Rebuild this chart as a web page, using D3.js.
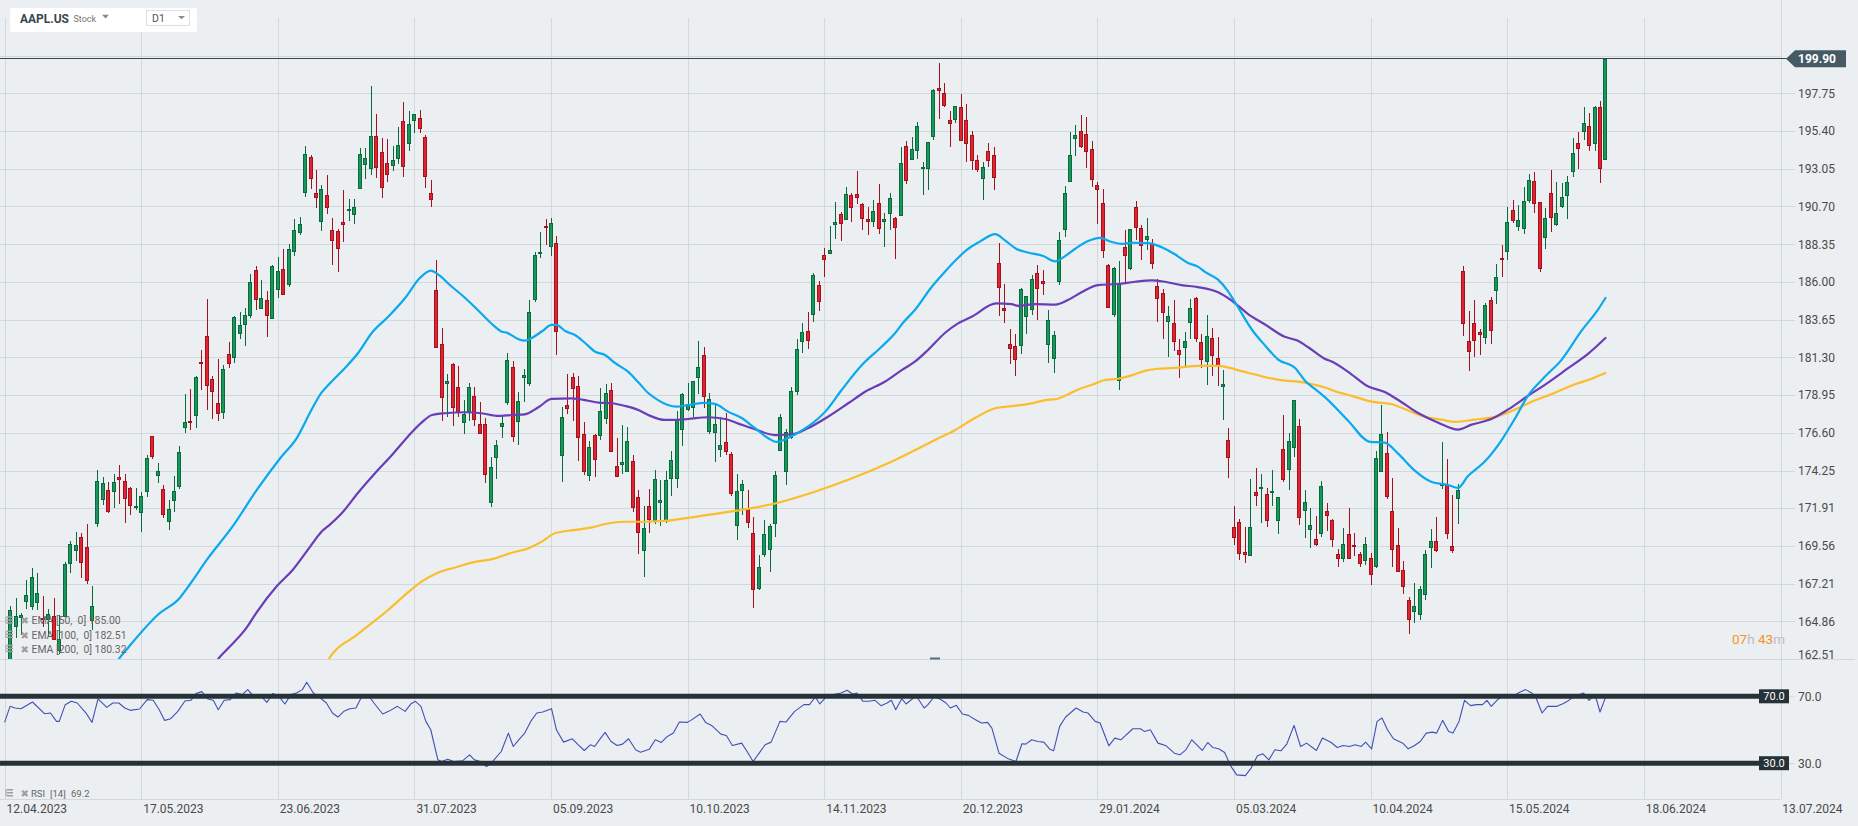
<!DOCTYPE html>
<html>
<head>
<meta charset="utf-8">
<script src="https://cdn.jsdelivr.net/npm/d3@7"></script>
<style>
  html, body { margin:0; padding:0; background:#eceff1; overflow:hidden; }
  svg { display:block; font-family: Roboto, "Noto Sans", "DejaVu Sans", sans-serif; }
</style>
</head>
<body>
<svg id="chart" width="1858" height="826"></svg>
<script>
// ---------------- DATA ----------------
const symbol = "AAPL.US";
const lastPrice = 199.90;
const xTickIdx = [0,25,50,75,100,125,150,175,200,225,250,275,300,325];
const xTickLabels = ["12.04.2023","17.05.2023","23.06.2023","31.07.2023","05.09.2023","10.10.2023","14.11.2023","20.12.2023","29.01.2024","05.03.2024","10.04.2024","15.05.2024","18.06.2024","13.07.2024"];
const priceTicks = [162.51,164.86,167.21,169.56,171.91,174.25,176.60,178.95,181.30,183.65,186.00,188.35,190.70,193.05,195.40,197.75];
const gridExtra = [200.10];
const rsiLevels = [70,30];

const open = [
161.22,161.63,164.59,165.09,166.10,165.80,166.09,165.05,165.00,165.19,
163.06,165.19,168.49,169.28,170.09,169.50,164.89,170.98,172.48,173.05,
173.02,173.85,173.62,173.16,171.99,171.71,173.00,176.39,173.98,173.13,
171.09,172.41,173.32,176.96,177.33,177.70,181.03,182.63,179.97,178.44,
177.90,181.50,181.27,182.80,183.37,183.96,186.73,184.41,184.90,183.74,
185.55,186.83,185.89,187.93,189.08,191.63,193.78,191.57,189.84,191.41,
189.26,189.16,189.75,190.50,190.23,191.90,193.35,193.10,195.09,194.10,
193.41,193.33,193.67,196.02,194.67,196.06,196.24,195.04,191.57,185.52,
182.13,179.69,180.87,179.48,177.32,177.97,178.88,177.13,177.14,172.30,
175.07,177.06,178.52,180.67,177.38,180.09,179.70,184.94,187.84,189.49,
188.28,188.40,175.18,178.35,180.07,179.49,176.51,174.00,176.48,176.48,
177.52,179.26,174.55,174.67,174.20,174.82,172.62,169.34,172.02,171.22,
172.26,171.09,173.79,173.80,176.81,178.10,178.20,180.07,181.42,176.75,
176.65,175.58,176.04,175.31,170.91,173.05,171.88,170.37,166.91,169.02,
169.35,171.00,175.52,174.24,176.38,179.18,182.35,182.96,183.97,185.82,
187.70,187.85,189.57,190.25,189.89,191.41,191.49,190.87,189.92,189.78,
190.90,189.84,190.33,189.98,190.21,194.45,193.63,194.20,193.11,193.08,
195.09,198.06,197.75,196.09,196.16,196.90,196.10,195.18,193.61,192.49,
194.14,193.90,187.15,184.35,182.15,181.99,182.09,183.92,184.35,186.54,
186.06,182.16,181.27,186.09,189.33,192.30,195.02,195.42,195.22,194.27,
192.01,190.94,187.04,183.99,179.86,188.15,186.86,190.64,189.39,188.65,
188.42,185.77,185.32,183.55,183.42,181.79,181.94,183.48,185.01,182.24,
181.10,182.51,181.27,179.55,176.15,170.76,171.06,169.15,169.00,172.94,
173.15,172.77,172.91,171.17,175.57,174.34,175.72,177.05,171.76,170.57,
170.00,170.41,171.75,171.19,169.08,168.79,170.29,169.59,169.03,168.70,
168.80,168.34,174.26,175.36,171.75,169.61,168.03,166.21,165.52,165.35,
166.54,169.53,169.88,173.37,173.33,169.58,172.51,186.65,182.35,183.45,
182.85,182.56,184.90,185.44,187.51,187.91,190.47,189.51,189.33,191.09,
192.27,190.98,188.82,191.51,189.61,190.76,191.44,192.90,194.64,195.40,
195.69,194.65,196.90,193.65];
const high = [
162.06,165.80,166.32,165.39,167.41,168.16,167.87,166.45,165.60,166.31,
165.28,168.56,169.85,170.45,170.35,170.92,167.04,174.30,173.85,173.54,
174.03,174.59,174.06,173.21,173.14,172.93,175.24,176.39,174.71,173.38,
172.42,173.90,175.77,178.99,179.35,180.12,181.78,184.95,180.12,181.21,
180.84,182.23,183.89,184.15,184.39,186.52,186.99,186.10,185.41,187.05,
187.56,188.05,188.39,189.90,190.07,194.48,193.88,192.98,192.02,192.67,
189.99,189.30,191.70,191.19,191.18,194.32,194.33,198.23,196.47,194.97,
194.91,194.44,195.64,197.20,196.63,196.49,196.73,195.18,192.37,187.38,
183.13,180.27,180.93,180.75,178.62,179.69,179.48,178.54,177.51,175.10,
176.13,177.68,181.55,181.10,179.15,180.59,184.90,187.85,189.12,189.92,
189.98,188.85,178.21,180.24,180.30,180.13,177.30,176.10,176.50,179.38,
179.63,179.70,176.30,177.08,176.97,175.20,173.04,172.03,173.07,174.30,
173.63,174.21,175.45,177.99,179.05,179.72,179.85,182.34,181.93,179.08,
178.42,177.58,177.84,175.42,174.01,173.67,173.06,171.38,168.96,171.17,
170.90,174.23,177.78,176.82,179.43,182.44,183.45,184.12,186.57,186.03,
188.11,189.50,190.96,190.38,191.91,191.52,192.93,190.90,190.67,191.08,
192.09,190.32,191.56,190.05,194.40,194.76,195.00,195.99,193.49,194.72,
198.00,199.62,198.40,196.63,196.95,197.68,197.08,195.41,193.89,193.50,
194.66,194.40,188.44,185.88,183.09,182.76,185.60,185.15,186.40,187.05,
186.74,184.26,182.93,189.14,191.95,195.33,195.75,196.38,196.27,194.76,
192.20,191.80,187.10,186.95,187.33,189.25,189.31,191.05,189.54,189.99,
188.67,186.21,185.53,184.49,184.85,182.43,182.89,184.96,185.04,182.76,
183.92,183.12,182.57,180.53,176.90,172.04,171.24,170.73,173.70,174.38,
174.03,173.19,174.31,172.62,177.71,176.61,178.67,177.49,173.05,171.94,
171.42,173.60,172.23,171.25,169.34,170.68,171.92,170.39,169.20,170.08,
169.09,175.46,178.36,176.63,173.76,170.65,168.64,166.40,167.26,167.05,
169.30,170.61,171.34,176.03,174.99,172.71,173.42,187.00,184.20,184.90,
183.07,184.66,185.09,187.10,188.30,190.65,191.10,190.81,191.92,192.73,
192.82,191.00,190.58,193.00,192.25,192.18,192.57,194.99,195.32,196.90,
196.50,196.94,197.30,199.90];
const low = [
159.78,161.42,163.82,164.03,165.65,165.54,165.56,164.49,163.89,163.73,
162.80,165.19,167.88,168.64,167.54,167.16,164.31,170.76,172.11,171.60,
171.90,172.17,171.00,171.47,171.80,170.42,172.58,174.94,173.45,171.28,
170.52,171.69,173.11,176.57,176.76,176.93,179.26,178.04,177.43,177.32,
177.46,180.63,180.97,182.44,182.02,183.78,184.27,184.41,182.59,183.67,
185.01,185.23,185.67,187.60,188.94,191.26,191.76,190.62,189.20,190.24,
187.04,186.60,188.47,189.78,189.63,191.81,192.42,192.65,192.50,191.23,
192.25,192.92,193.32,192.55,194.14,195.26,195.28,191.85,190.69,181.92,
177.35,177.58,177.01,177.60,176.55,177.31,177.05,176.50,173.48,171.96,
173.74,176.25,178.33,176.01,175.82,178.55,179.50,184.74,187.48,188.28,
187.61,181.47,173.54,177.79,177.34,174.82,173.98,173.58,173.82,176.17,
177.13,175.40,173.86,174.05,174.15,171.66,169.05,167.62,170.34,170.93,
170.82,170.97,172.68,173.18,175.80,177.95,177.60,179.04,178.14,176.51,
174.80,175.11,175.19,172.64,169.93,171.45,170.65,165.67,166.83,168.87,
167.90,170.12,175.46,173.35,176.21,178.97,181.59,181.81,183.53,184.21,
186.30,187.78,188.65,188.57,189.88,189.74,190.83,189.25,188.90,189.40,
188.97,188.19,189.23,187.45,190.18,192.11,193.59,193.67,191.42,191.72,
194.85,196.16,196.90,194.39,195.89,194.83,193.50,192.97,192.83,191.09,
193.17,191.73,183.89,183.43,180.88,180.17,181.50,182.73,183.92,183.62,
185.19,180.93,180.30,185.83,188.82,192.26,193.83,194.34,193.11,191.94,
189.58,187.47,184.35,183.82,179.25,185.84,186.77,188.61,187.35,188.00,
186.79,183.51,182.44,181.35,181.67,180.00,180.66,182.46,182.23,180.65,
179.56,180.13,179.53,177.38,173.79,169.62,168.68,168.49,168.94,172.05,
171.01,170.76,172.05,170.29,173.52,173.03,175.09,170.84,170.06,169.45,
169.58,170.11,170.51,169.48,168.23,168.58,168.82,168.95,168.24,168.35,
167.11,168.16,174.21,172.50,168.27,168.00,166.55,164.08,164.77,164.92,
166.21,168.15,169.18,173.10,170.00,169.11,170.89,182.66,180.42,181.32,
181.45,182.11,182.13,184.62,186.29,187.37,189.66,189.18,189.01,190.92,
190.27,186.63,188.04,189.10,189.51,190.63,189.91,192.52,193.03,194.87,
194.17,194.14,192.15,193.63];
const close = [
160.10,165.56,165.21,165.23,166.47,167.63,166.65,165.02,165.33,163.77,
163.76,168.41,169.68,169.59,168.54,167.45,165.79,173.57,173.50,171.77,
173.56,173.75,172.57,172.07,172.07,172.69,175.05,175.16,174.20,171.56,
171.84,172.99,175.43,177.30,177.25,180.09,180.95,179.58,179.21,177.82,
180.57,180.96,183.79,183.31,183.95,186.01,184.92,185.01,183.96,187.00,
186.68,185.27,188.06,189.25,189.59,193.97,192.46,191.33,191.81,190.68,
188.61,188.08,189.65,190.54,190.69,193.99,193.73,195.10,193.13,191.94,
192.75,193.62,194.50,193.22,195.83,196.45,195.61,192.58,191.17,181.99,
178.85,179.80,178.19,177.97,177.79,179.46,177.45,176.57,174.00,174.49,
175.84,177.23,181.12,176.38,178.61,180.19,184.12,187.65,187.87,189.46,
189.70,182.91,177.56,178.18,179.36,176.30,174.21,175.74,175.01,177.97,
179.07,175.49,173.93,174.79,176.08,171.96,170.43,170.69,171.21,173.75,
172.40,173.66,174.91,177.49,178.99,178.39,179.80,180.71,178.85,178.72,
177.15,175.84,175.46,172.88,173.00,173.44,171.10,166.89,168.22,170.29,
170.77,173.97,177.57,176.65,179.23,181.82,182.89,182.41,186.40,184.80,
187.44,188.01,189.71,189.69,191.45,190.64,191.31,189.97,189.79,190.40,
189.37,189.95,191.24,189.43,193.42,192.32,194.27,195.71,193.18,194.71,
197.96,197.95,197.00,195.89,196.94,194.83,194.68,193.60,193.05,193.15,
193.58,192.53,185.64,184.25,181.91,181.18,185.56,185.14,186.19,185.59,
185.92,183.63,182.68,188.63,191.56,193.89,195.18,194.50,194.17,192.42,
191.73,188.04,184.40,186.86,185.85,187.68,189.30,189.41,188.32,188.85,
187.15,185.04,184.15,183.86,182.31,181.56,182.32,184.37,182.52,181.16,
182.63,181.42,180.75,179.66,175.10,170.12,169.12,169.00,170.73,172.75,
173.23,171.13,173.00,172.62,173.72,176.08,178.67,171.37,172.28,170.85,
169.71,173.31,171.48,170.03,168.84,169.65,168.82,169.58,168.45,169.67,
167.78,175.04,176.55,172.69,169.38,168.00,167.04,165.00,165.84,166.90,
169.02,169.89,169.30,173.50,170.33,169.30,173.03,183.38,181.71,182.40,
182.74,184.57,183.05,186.28,187.43,189.72,189.84,189.87,191.04,192.35,
190.90,186.88,189.98,189.99,190.29,191.29,192.25,194.03,194.35,195.87,
194.48,196.89,193.12,199.90];

// EMA readings [bar index, value]
const ema50 = [[20.0,162.0],[20.9,162.51],[22.4,163.13],[28.1,165.28],[32.1,166.33],[33.9,167.15],[37.0,168.68],[41.8,170.80],[46.1,173.01],[50.4,175.00],[53.5,176.29],[56.2,178.05],[58.0,179.10],[59.6,179.70],[62.3,180.64],[64.7,181.57],[67.2,182.82],[70.2,183.83],[73.3,185.00],[76.0,186.24],[78.0,186.70],[79.7,186.37],[81.5,185.81],[84.3,185.00],[86.6,184.25],[89.2,183.38],[91.0,182.90],[91.9,182.84],[94.0,182.44],[95.2,182.34],[96.5,182.51],[98.5,182.96],[100.1,183.32],[101.0,183.32],[102.6,182.94],[104.4,182.69],[106.2,182.21],[108.1,181.65],[109.9,181.45],[111.7,180.95],[114.1,180.41],[115.9,179.78],[117.8,179.08],[119.6,178.64],[121.4,178.33],[123.0,178.23],[125.1,178.33],[128.2,178.46],[130.0,178.40],[132.4,177.92],[134.9,177.52],[137.3,176.90],[139.7,176.28],[141.3,176.03],[143.4,176.28],[147.0,176.98],[150.2,177.92],[153.2,179.27],[156.9,180.82],[160.5,181.96],[163.0,182.82],[164.4,183.44],[166.6,184.25],[169.7,185.70],[172.1,186.64],[174.3,187.43],[176.1,187.99],[178.5,188.51],[181.3,188.98],[183.1,188.59],[185.2,188.05],[187.3,187.83],[190.1,187.61],[192.3,187.28],[194.1,187.61],[195.9,188.05],[198.1,188.52],[200.5,188.75],[202.3,188.52],[204.5,188.37],[206.3,188.44],[209.3,188.42],[211.8,188.16],[214.2,187.72],[216.6,187.18],[218.4,186.95],[219.7,186.62],[222.1,186.14],[223.9,185.43],[225.5,184.56],[228.3,183.02],[230.7,182.04],[233.1,181.16],[236.2,180.64],[238.0,179.85],[239.5,179.42],[241.7,178.81],[245.9,177.35],[249.9,176.04],[252.6,175.99],[255.0,175.32],[258.1,174.25],[261.2,173.54],[264.2,173.35],[266.0,173.17],[267.8,173.89],[271.0,174.84],[274.0,176.15],[276.4,177.47],[278.8,178.90],[281.9,180.09],[285.0,181.16],[288.6,182.95],[291.6,184.26],[293.0,185.00]];
const ema100 = [[38.0,161.9],[39.1,162.51],[40.7,163.10],[44.3,164.46],[46.1,165.40],[49.8,167.04],[52.8,168.09],[55.9,169.50],[58.0,170.43],[59.6,170.90],[61.7,171.59],[64.7,172.87],[67.8,174.08],[70.9,175.22],[73.8,176.36],[76.3,177.23],[78.2,177.71],[80.6,177.82],[84.3,177.88],[87.3,177.82],[90.3,177.65],[92.8,177.71],[95.2,177.75],[97.7,178.19],[100.1,178.71],[103.8,178.75],[106.8,178.60],[108.7,178.48],[111.1,178.44],[113.6,178.27],[116.0,178.02],[117.8,177.71],[120.9,177.40],[122.1,177.40],[125.1,177.46],[128.7,177.57],[131.9,177.46],[134.2,177.19],[137.3,176.82],[141.0,176.46],[144.1,176.51],[147.0,176.88],[150.7,177.60],[154.4,178.44],[157.5,179.16],[161.1,179.78],[164.2,180.51],[166.6,181.03],[169.0,181.76],[172.1,182.82],[174.5,183.42],[177.0,183.83],[181.5,184.66],[184.3,184.62],[185.5,184.51],[188.6,184.62],[192.3,184.59],[194.6,184.87],[197.1,185.36],[200.1,185.80],[203.8,185.87],[206.9,186.01],[210.0,186.10],[212.4,186.01],[215.4,185.80],[218.4,185.68],[222.1,185.36],[224.6,184.84],[227.6,184.00],[230.7,183.35],[234.3,182.58],[236.5,182.36],[238.6,181.93],[241.7,181.20],[242.9,181.04],[245.9,180.40],[249.5,179.50],[252.6,179.14],[255.0,178.66],[258.7,177.83],[262.4,177.23],[266.0,176.80],[268.5,177.11],[272.2,177.47],[275.2,178.06],[278.8,178.90],[282.5,179.73],[286.1,180.61],[289.8,181.52],[293.0,182.51]];
const ema200 = [[58.5,162.0],[59.0,162.32],[64.7,164.07],[70.2,165.56],[73.3,166.50],[76.3,167.33],[79.3,167.89],[83.0,168.26],[85.5,168.51],[89.8,168.78],[92.8,169.13],[95.9,169.41],[98.3,169.82],[100.7,170.34],[104.4,170.55],[107.5,170.71],[109.9,170.92],[113.6,171.06],[117.2,171.06],[120.9,171.11],[127.0,171.40],[134.0,171.75],[141.0,172.20],[148.0,172.90],[155.0,173.75],[162.0,174.75],[170.3,176.15],[174.0,176.78],[177.6,177.52],[181.3,178.13],[184.3,178.26],[188.0,178.43],[190.4,178.64],[192.3,178.69],[194.1,178.91],[196.5,179.30],[199.0,179.59],[201.4,179.89],[203.8,179.97],[206.3,180.18],[208.7,180.46],[211.1,180.59],[214.8,180.66],[218.4,180.77],[222.1,180.77],[223.9,180.68],[226.4,180.44],[228.9,180.23],[231.2,180.03],[234.3,179.85],[236.7,179.79],[239.8,179.59],[241.7,179.42],[243.5,179.19],[246.6,178.90],[250.2,178.54],[253.9,178.38],[256.9,177.99],[260.0,177.59],[263.0,177.42],[265.5,177.28],[269.1,177.42],[272.8,177.59],[276.5,178.06],[279.5,178.54],[283.2,179.02],[287.4,179.62],[290.5,179.97],[293.0,180.32]];
const emaLegend = [["EMA [50,  0]", "185.00"], ["EMA [100,  0]", "182.51"], ["EMA [200,  0]", "180.32"]];

// RSI(14) readings [bar index, value]
const rsi = [[0,54.4],[1,64],[1.9,63],[3.0,62.6],[5.1,66.6],[7.3,59.6],[8.4,60],[9.5,55],[10.0,55],[11.1,65],[12.2,67],[13.3,66],[14.9,60],[16.0,54.4],[17.1,68.4],[18.7,63.4],[19.8,66],[20.9,66],[22.0,63],[23.0,61.6],[24.7,62.4],[26.1,68],[27.2,67.6],[28.3,62],[29.3,55.6],[30.4,56.6],[31.7,61],[33.0,67.2],[34.1,67.6],[35.0,71.6],[36.1,72.8],[37.2,68.4],[38.2,67.6],[39.1,62],[40.2,67.6],[41.3,68],[42.4,72],[43.5,71],[44.5,74],[45.6,70],[46.7,71],[48.0,66.4],[49.1,71.6],[50.2,70],[51.3,65.4],[52.4,71],[53.4,72],[54.5,74],[55.3,78.4],[56.5,72],[57.8,69],[58.9,66],[60.0,60],[61.0,57.6],[62.1,61],[63.2,62.6],[64.3,63],[65.4,70],[66.5,71],[67.6,66],[69.2,59.4],[70.3,61],[71.9,64],[73.3,61],[74.4,65.6],[75.2,67],[76.2,64],[77.1,55],[78.0,50],[79.3,32],[80.0,31],[81.1,32.4],[82.2,31],[83.8,31.4],[85.1,35],[86.0,32],[87.1,31],[88.2,28],[89.3,31],[90.9,37],[92.2,48],[93.1,40],[94.1,44],[95.2,48],[96.3,55],[97.4,60],[98.5,60.6],[100.1,62.6],[101.0,50],[102.3,42.6],[103.9,44.6],[105.0,41],[106.1,37.6],[107.2,41],[108.0,40],[109.1,45],[109.9,48.4],[111.0,43],[112.1,40.6],[113.1,41.4],[114.2,44.6],[115.5,38],[116.4,36.6],[118.0,38.4],[119.1,44],[120.2,42.4],[121.3,46],[122.4,48],[123.5,54.6],[124.9,54.4],[125.6,55.6],[127.3,59.4],[128.3,54.4],[129.4,52.6],[131.1,47.4],[132.1,46.6],[133.2,40.6],[134.9,42],[135.9,37],[137.0,31],[138.1,36],[139.2,41],[140.3,42.6],[141.9,55],[143.0,54.6],[144.6,61],[146.3,65],[147.3,65],[148.4,69.6],[149.2,65.4],[150.4,69.6],[151.7,71],[153.1,72],[154.2,73.6],[155.2,71.4],[156.0,72],[157.1,67],[158.2,67],[159.3,67.6],[160.4,64.4],[161.5,66],[162.3,67.6],[163.1,62],[164.2,68.6],[165.0,65.4],[166.1,68.4],[166.9,70],[168.3,63],[169.0,65],[170.1,69.6],[171.2,68.4],[172.3,66],[173.1,63],[174.2,64.6],[175.3,59.4],[176.4,58.6],[177.7,56],[178.8,54],[179.9,54.4],[180.7,51],[182.0,36],[183.7,32.6],[185.1,31],[186.2,41.6],[186.9,41.4],[188.0,44],[189.1,43],[190.2,42.6],[191.3,38.4],[192.0,37.4],[193.1,52],[194.2,57.6],[196.1,63],[197.4,60.6],[198.3,60],[199.6,55],[200.5,54],[202.1,40.4],[203.2,45],[204.3,44],[206.5,50.6],[207.9,50.6],[208.6,49],[209.7,50],[211.1,42],[212.6,40.4],[214.1,36],[215.1,35],[216.2,38],[217.3,44],[219.2,37.6],[220.2,42.4],[221.1,39.4],[222.2,38.6],[223.3,36.4],[224.4,28.4],[225.5,23],[227.1,22.6],[228.2,27.4],[229.3,34.4],[230.3,35.6],[231.4,32],[232.5,38],[233.6,37.4],[234.7,41.6],[236.0,52.6],[237.2,40],[238.3,42],[240.1,37.6],[241.2,45],[242.8,42.4],[243.9,39.4],[245.0,40.6],[246.1,40],[247.2,41],[248.3,40],[249.1,42.6],[250.2,38.6],[251.2,55],[252.1,57],[253.1,50],[254.2,44.6],[255.9,42],[256.9,38.6],[258.0,40.4],[259.1,43],[260.2,48],[261.3,48.6],[262.1,48],[263.2,55.6],[264.3,49],[265.1,48],[266.2,55],[267.2,67.6],[268.3,64.4],[269.4,65],[270.5,65],[271.3,67.6],[272.1,64],[273.4,68.4],[274.8,71],[276.5,71],[277.3,72.4],[278.4,74],[279.5,72],[280.3,69],[281.4,60],[282.4,64],[284.1,64],[285.2,65.6],[286.2,67.4],[287.3,70],[289.0,72],[290.0,67.6],[291.1,71],[292.0,60.6],[293.0,69.2]];
const rsiLegend = ["RSI", "[14]", "69.2"];

// ---------------- CHART ----------------
const svg = d3.select('#chart');
const BG = '#eceff1', GRID = '#d2d9dd', TXT = '#4a4a4a';
const UP_F = '#17975a', UP_S = '#0b6a3c', DN_F = '#e2222f', DN_S = '#a3121c';
svg.append('rect').attr('width',1858).attr('height',826).attr('fill',BG);

const AX = 1781, MAIN_TOP = 18, MAIN_BOTTOM = 659, RSI_BOTTOM = 799;
const x = d3.scaleLinear().domain([0,325]).range([4.6,1780.3]);
const y = d3.scaleLinear().domain([162.51,197.75]).range([659,93.3]);
const yr = d3.scaleLinear().domain([30,70]).range([763.2,696.3]);
const px = v => Math.round(v) + 0.5;

const defs = svg.append('defs');
defs.append('clipPath').attr('id','clipMain').append('rect')
  .attr('x',0).attr('y',MAIN_TOP).attr('width',AX).attr('height',MAIN_BOTTOM-MAIN_TOP);
defs.append('clipPath').attr('id','clipRsi').append('rect')
  .attr('x',0).attr('y',MAIN_BOTTOM+1).attr('width',AX).attr('height',RSI_BOTTOM-MAIN_BOTTOM-1);

// grid
const gv = svg.append('g').attr('shape-rendering','crispEdges');
gv.selectAll('line').data(xTickIdx.filter(d => d < 325)).join('line')
  .attr('x1', d => px(x(d))).attr('x2', d => px(x(d)))
  .attr('y1', MAIN_TOP).attr('y2', RSI_BOTTOM).attr('stroke', GRID);
const gh = svg.append('g').attr('shape-rendering','crispEdges');
gh.selectAll('line').data(priceTicks.concat(gridExtra)).join('line')
  .attr('x1', 0).attr('x2', AX).attr('y1', d => px(y(d))).attr('y2', d => px(y(d)))
  .attr('stroke', GRID);

// frame lines
const frame = svg.append('g').attr('shape-rendering','crispEdges').attr('stroke', GRID);
frame.append('line').attr('x1',0).attr('x2',1855).attr('y1',px(MAIN_BOTTOM)).attr('y2',px(MAIN_BOTTOM));
frame.append('line').attr('x1',0).attr('x2',AX).attr('y1',px(RSI_BOTTOM)).attr('y2',px(RSI_BOTTOM));
frame.append('line').attr('x1',px(AX)).attr('x2',px(AX)).attr('y1',0).attr('y2',RSI_BOTTOM);

// right price axis
const yAxis = d3.axisRight(y).tickValues(priceTicks).tickFormat(d3.format('.2f')).tickSize(14).tickPadding(3);
const ga = svg.append('g').attr('transform', `translate(${AX},0)`).call(yAxis)
  .attr('font-family','Roboto, sans-serif').attr('font-size',12);
ga.select('.domain').remove();
ga.selectAll('.tick line').attr('stroke', GRID).attr('shape-rendering','crispEdges');
ga.selectAll('.tick text').attr('fill', TXT);
ga.selectAll('.tick').filter(d => d === priceTicks[0]).select('text').attr('transform','translate(0,-4)');

// RSI axis
const rAxis = d3.axisRight(yr).tickValues(rsiLevels).tickFormat(d3.format('.1f')).tickSize(14).tickPadding(3);
const gr = svg.append('g').attr('transform', `translate(${AX},0)`).call(rAxis)
  .attr('font-family','Roboto, sans-serif').attr('font-size',12);
gr.select('.domain').remove();
gr.selectAll('.tick line').attr('stroke', GRID);
gr.selectAll('.tick text').attr('fill', TXT);

// bottom axis
const xAxis = d3.axisBottom(x).tickValues(xTickIdx).tickFormat((d,i) => xTickLabels[i]).tickSize(0).tickPadding(0);
const gx = svg.append('g').attr('transform', `translate(0,${RSI_BOTTOM})`).call(xAxis)
  .attr('font-family','Roboto, sans-serif').attr('font-size',12);
gx.select('.domain').remove();
gx.selectAll('.tick text').attr('text-anchor','start').attr('x',1.5).attr('y',14).attr('dy',0).attr('fill',TXT);

// candles
const idx = d3.range(close.length);
const gc = svg.append('g').attr('clip-path','url(#clipMain)').attr('shape-rendering','crispEdges');
gc.selectAll('line').data(idx).join('line')
  .attr('x1', i => px(x(i))).attr('x2', i => px(x(i)))
  .attr('y1', i => y(Math.max(high[i], open[i], close[i])))
  .attr('y2', i => y(Math.min(low[i], open[i], close[i])))
  .attr('stroke', i => close[i] >= open[i] ? UP_S : DN_S);
gc.selectAll('rect').data(idx).join('rect')
  .attr('x', i => Math.round(x(i)) - 1.5)
  .attr('width', 3)
  .attr('y', i => Math.round(y(Math.max(open[i], close[i]))) + 0.5)
  .attr('height', i => Math.max(1, Math.round(Math.abs(y(open[i]) - y(close[i])))))
  .attr('fill', i => close[i] >= open[i] ? UP_F : DN_F)
  .attr('stroke', i => close[i] >= open[i] ? UP_S : DN_S)
  .attr('stroke-width', 1);

// EMA lines
const line = d3.line().x(d => x(d[0])).y(d => y(d[1])).curve(d3.curveMonotoneX);
const ge = svg.append('g').attr('clip-path','url(#clipMain)').attr('fill','none').attr('stroke-width',2.2)
  .attr('stroke-linejoin','round').attr('stroke-linecap','round');
ge.append('path').datum(ema200).attr('d', line).attr('stroke', '#fbbd2c');
ge.append('path').datum(ema100).attr('d', line).attr('stroke', '#6a3db8');
ge.append('path').datum(ema50).attr('d', line).attr('stroke', '#0aa8ef');

// current price line + label
svg.append('line').attr('x1',0).attr('x2',1787).attr('y1',px(y(lastPrice))-1).attr('y2',px(y(lastPrice))-1)
  .attr('stroke','#37474f').attr('shape-rendering','crispEdges');
const py = y(lastPrice);
svg.append('path')
  .attr('d', `M1786,${py} L1795,${py-8.5} L1846,${py-8.5} L1846,${py+8.5} L1795,${py+8.5} Z`)
  .attr('fill','#455a64');
svg.append('text').attr('x',1798).attr('y',py+4.3).text(d3.format('.2f')(lastPrice))
  .attr('fill','#fff').attr('font-weight','bold').attr('font-size',12);

// RSI pane
const lineR = d3.line().x(d => x(d[0])).y(d => yr(d[1]));
svg.append('g').attr('clip-path','url(#clipRsi)').append('path').datum(rsi).attr('d', lineR)
  .attr('fill','none').attr('stroke','#3f51b5').attr('stroke-width',1.1).attr('stroke-linejoin','round');
const gl = svg.append('g');
gl.selectAll('line').data(rsiLevels).join('line')
  .attr('x1',0).attr('x2',1760).attr('y1', d => yr(d)).attr('y2', d => yr(d))
  .attr('stroke','#263238').attr('stroke-width',5);
gl.selectAll('rect').data(rsiLevels).join('rect')
  .attr('x',1759).attr('y', d => yr(d) - 7).attr('width',30).attr('height',14).attr('fill','#263238');
gl.selectAll('text').data(rsiLevels).join('text')
  .attr('x',1774).attr('y', d => yr(d) + 3.8).attr('text-anchor','middle')
  .attr('fill','#fff').attr('font-size',11).text(d => d3.format('.1f')(d));

// small pane handle
svg.append('line').attr('x1',930).attr('x2',940).attr('y1',658.5).attr('y2',658.5)
  .attr('stroke','#546e7a').attr('stroke-width',2);

// legend icons helper
function icons(g, cy) {
  g.append('rect').attr('x',7).attr('y',cy-4).attr('width',6).attr('height',1.5).attr('fill','#9e9e9e');
  g.append('rect').attr('x',7).attr('y',cy-1).attr('width',6).attr('height',1.5).attr('fill','#9e9e9e');
  g.append('rect').attr('x',7).attr('y',cy+2).attr('width',6).attr('height',1.5).attr('fill','#9e9e9e');
  g.append('rect').attr('x',5.5).attr('y',cy-4).attr('width',1).attr('height',7.5).attr('fill','#9e9e9e');
  g.append('text').attr('x',20.5).attr('y',cy+4).text('\u2716')
    .attr('font-family','"DejaVu Sans", sans-serif').attr('font-size',10).attr('fill','#9e9e9e');
}
// EMA legend
const gLeg = svg.append('g');
emaLegend.forEach((d, k) => {
  const base = 624.3 + k * 14.2;
  icons(gLeg, base - 4);
  gLeg.append('text').attr('x',31.5).attr('y',base).style('white-space','pre')
    .attr('font-size',10.4).attr('fill','#666').text(d[0] + ' ' + d[1]);
});
// RSI legend
const gRL = svg.append('g');
icons(gRL, 793);
gRL.append('text').attr('x',31).attr('y',797).attr('font-size',9.5).attr('fill','#666').text(rsiLegend[0]);
gRL.append('text').attr('x',50).attr('y',797).attr('font-size',9.5).attr('fill','#666').text(rsiLegend[1]);
gRL.append('text').attr('x',71).attr('y',797).attr('font-size',9.5).attr('fill','#666').text(rsiLegend[2]);

// countdown
const tc = svg.append('text').attr('x',1732).attr('y',644).attr('font-size',13.5);
tc.append('tspan').attr('fill','#f7931e').text('07');
tc.append('tspan').attr('fill','#bdbdbd').text('h ');
tc.append('tspan').attr('fill','#f7931e').text('43');
tc.append('tspan').attr('fill','#bdbdbd').text('m');

// header
const hd = svg.append('g');
hd.append('rect').attr('x',10).attr('y',8).attr('width',187).attr('height',24).attr('rx',2).attr('fill','#fff');
hd.append('text').attr('x',20).attr('y',23.3).attr('font-size',13).attr('font-weight','bold').attr('fill','#37474f')
  .attr('textLength',49).attr('lengthAdjust','spacingAndGlyphs').text(symbol);
hd.append('text').attr('x',73.5).attr('y',22.3).attr('font-size',9).attr('fill','#757575').text('Stock');
hd.append('path').attr('d','M102,14.8 L109,14.8 L105.5,18.5 Z').attr('fill','#8a8a8a');
hd.append('rect').attr('x',146.5).attr('y',10.5).attr('width',43).attr('height',15).attr('fill','#fff').attr('stroke','#e0e0e0');
hd.append('text').attr('x',152).attr('y',22).attr('font-size',10.5).attr('fill','#555').text('D1');
hd.append('path').attr('d','M178,16 L185,16 L181.5,19.3 Z').attr('fill','#8a8a8a');
</script>
</body>
</html>
